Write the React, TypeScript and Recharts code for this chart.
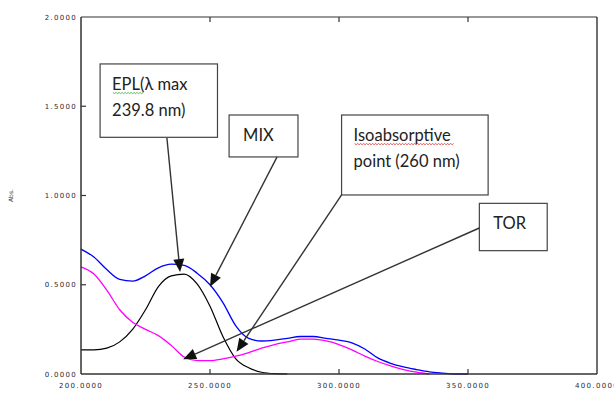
import { LineChart, Line, XAxis, YAxis, ReferenceArea, ReferenceLine } from "recharts";

// UV spectra, absorbance read every 5 nm
const wavelengths = [
  200, 205, 210, 215, 220, 225, 230, 235, 240, 245, 250, 255, 260, 265, 270, 275,
  280, 285, 290, 295, 300, 305, 310, 315, 320, 325, 330, 335, 340, 345, 350,
];
const eplAbs = [
  0.135, 0.135, 0.145, 0.18, 0.25, 0.36, 0.49, 0.55, 0.56, 0.505, 0.38, 0.21, 0.085, 0.035, 0.01, 0.002,
  0, null, null, null, null, null, null, null, null, null, null, null, null, null, null,
];
const mixAbs = [
  0.7, 0.655, 0.585, 0.53, 0.52, 0.55, 0.595, 0.615, 0.608, 0.565, 0.5, 0.4, 0.27, 0.2, 0.185, 0.19,
  0.2, 0.21, 0.21, 0.2, 0.19, 0.175, 0.14, 0.09, 0.06, 0.04, 0.025, 0.012, 0.005, 0, 0,
];
const torAbs = [
  0.6, 0.56, 0.47, 0.36, 0.29, 0.25, 0.215, 0.16, 0.095, 0.075, 0.075, 0.085, 0.1, 0.12, 0.145, 0.165,
  0.18, 0.195, 0.195, 0.185, 0.165, 0.135, 0.1, 0.07, 0.045, 0.025, 0.01, 0, null, null, null,
];

const xTicks = [200, 250, 300, 350, 400];
const yTicks = [0, 0.5, 1, 1.5, 2];

// callout boxes and arrows, in (nm, Abs.) units
const boxes = [
  { id: "epl", x1: 207.4, x2: 252.9, y1: 1.326, y2: 1.737, lines: ["EPL(λ max", "239.8 nm)"], wavyWidth: 30, wavyColor: "#3aa63a" },
  { id: "mix", x1: 257.4, x2: 284.1, y1: 1.216, y2: 1.451, lines: ["MIX"] },
  { id: "iso", x1: 301, x2: 357.8, y1: 1.003, y2: 1.451, lines: ["Isoabsorptive", "point (260 nm)"], wavyWidth: 100, wavyColor: "#e03030" },
  { id: "tor", x1: 354.4, x2: 380.7, y1: 0.691, y2: 0.956, lines: ["TOR"] },
];
const arrows = [
  { id: "epl", from: [233.3, 1.322], to: [238.4, 0.571] },
  { id: "mix", from: [276, 1.216], to: [250, 0.489] },
  { id: "iso", from: [301, 1.003], to: [260.3, 0.125] },
  { id: "tor", from: [354.4, 0.818], to: [239.6, 0.082] },
];

const data = wavelengths.map((w, i) => ({ w, epl: eplAbs[i], mix: mixAbs[i], tor: torAbs[i] }));

const AXIS = "#333";
const tickFont = { fontFamily: "DejaVu Sans", fontSize: 7, letterSpacing: 1.3, fill: "#2a2a36" };

function BottomTick({ x, y, payload }: any) {
  const v = payload.value;
  return (
    <g>
      {v > 200 && v < 400 && <line x1={x} x2={x} y1={y} y2={y - 5} stroke={AXIS} strokeWidth={1.2} />}
      <text x={x} y={y + 14} textAnchor="middle" {...tickFont}>
        {v.toFixed(4)}
      </text>
    </g>
  );
}

function LeftTick({ x, y, payload }: any) {
  const v = payload.value;
  return (
    <g>
      {v > 0 && v < 2 && <line x1={x} x2={x + 5} y1={y} y2={y} stroke={AXIS} strokeWidth={1.2} />}
      <text x={x - 4} y={y + 2.5} textAnchor="end" {...tickFont}>
        {v.toFixed(4)}
      </text>
    </g>
  );
}

function TopTick({ x, y, payload }: any) {
  const v = payload.value;
  if (v <= 200 || v >= 400) return <g />;
  return <line x1={x} x2={x} y1={y} y2={y + 5} stroke={AXIS} strokeWidth={1.2} />;
}

function RightTick({ x, y, payload }: any) {
  const v = payload.value;
  if (v <= 0 || v >= 2) return <g />;
  return <line x1={x} x2={x - 5} y1={y} y2={y} stroke={AXIS} strokeWidth={1.2} />;
}

function Arrow({ x1, y1, x2, y2 }: any) {
  const dx = x2 - x1;
  const dy = y2 - y1;
  const len = Math.hypot(dx, dy) || 1;
  const ux = dx / len;
  const uy = dy / len;
  const hl = 13;
  const hw = 5.5;
  const bx = x2 - ux * hl;
  const by = y2 - uy * hl;
  return (
    <g>
      <line x1={x1} y1={y1} x2={bx} y2={by} stroke="#333" strokeWidth={1.4} />
      <polygon
        points={`${x2},${y2} ${bx - uy * hw},${by + ux * hw} ${bx + uy * hw},${by - ux * hw}`}
        fill="#111"
      />
    </g>
  );
}

// spell-check squiggle under a word
function squiggle(x: number, y: number, w: number) {
  let d = `M${x},${y}`;
  for (let i = 1; i * 1.5 <= w; i++) d += ` L${x + i * 1.5},${y + (i % 2 ? 1.2 : 0)}`;
  return d;
}

function makeBox(b: (typeof boxes)[number]) {
  return function Box({ x, y, width, height }: any) {
    const tx = x + (b.lines.length > 1 ? 12 : 14);
    return (
      <g>
        <rect x={x} y={y} width={width} height={height} fill="#fff" stroke="#444" strokeWidth={1.2} />
        {b.lines.map((t, i) => (
          <text key={t} x={tx} y={y + 26 + i * 26} fontFamily="Lato" fontSize={16.5} fill="#222">
            {t}
          </text>
        ))}
        {b.wavyWidth && (
          <path d={squiggle(tx + 1, y + 28.5, b.wavyWidth)} fill="none" stroke={b.wavyColor} strokeWidth={0.8} />
        )}
      </g>
    );
  };
}

export default function App() {
  return (
    <div style={{ position: "absolute", left: 0, top: 0, background: "#fff" }}>
      <LineChart width={614} height={394} data={data} margin={{ top: 0, right: 0, bottom: 0, left: 0 }}>
        <XAxis
          dataKey="w"
          type="number"
          domain={[200, 400]}
          ticks={xTicks}
          height={20}
          tickSize={0}
          tickMargin={0}
          tickLine={false}
          tick={BottomTick}
          axisLine={{ stroke: AXIS, strokeWidth: 1.3 }}
          interval={0}
          label={{
            content: ({ viewBox }: any) => (
              <text x={viewBox.x + viewBox.width / 2 - 10} y={viewBox.y + 25} textAnchor="middle" {...tickFont}>
                nm.
              </text>
            ),
          }}
        />
        <XAxis
          xAxisId="top"
          orientation="top"
          dataKey="w"
          type="number"
          domain={[200, 400]}
          ticks={xTicks}
          height={17}
          tickSize={0}
          tickMargin={0}
          tickLine={false}
          tick={TopTick}
          axisLine={{ stroke: AXIS, strokeWidth: 1.2 }}
          interval={0}
        />
        <YAxis
          type="number"
          domain={[0, 2]}
          ticks={yTicks}
          width={81}
          tickSize={0}
          tickMargin={0}
          tickLine={false}
          tick={LeftTick}
          axisLine={{ stroke: AXIS, strokeWidth: 1.5 }}
          interval={0}
          label={{
            content: ({ viewBox }: any) => (
              <text
                x={13}
                y={viewBox.y + viewBox.height / 2}
                textAnchor="middle"
                transform={`rotate(-90 13 ${viewBox.y + viewBox.height / 2})`}
                fontFamily="DejaVu Sans"
                fontSize={6}
                fill="#333"
              >
                Abs.
              </text>
            ),
          }}
        />
        <YAxis
          yAxisId="right"
          orientation="right"
          type="number"
          domain={[0, 2]}
          ticks={yTicks}
          width={17}
          tickSize={0}
          tickMargin={0}
          tickLine={false}
          tick={RightTick}
          axisLine={{ stroke: "#222", strokeWidth: 1.3 }}
          interval={0}
        />
        <Line dataKey="epl" stroke="#000" strokeWidth={1.2} dot={false} type="monotone" isAnimationActive={false} />
        <Line dataKey="tor" stroke="#ff00ff" strokeWidth={1.3} dot={false} type="monotone" isAnimationActive={false} />
        <Line dataKey="mix" stroke="#0000ff" strokeWidth={1.3} dot={false} type="monotone" isAnimationActive={false} />
        {arrows.map((a) => (
          <ReferenceLine
            key={a.id}
            segment={[
              { x: a.from[0], y: a.from[1] },
              { x: a.to[0], y: a.to[1] },
            ]}
            shape={Arrow}
          />
        ))}
        {boxes.map((b) => (
          <ReferenceArea key={b.id} x1={b.x1} x2={b.x2} y1={b.y1} y2={b.y2} shape={makeBox(b)} />
        ))}
      </LineChart>
    </div>
  );
}
